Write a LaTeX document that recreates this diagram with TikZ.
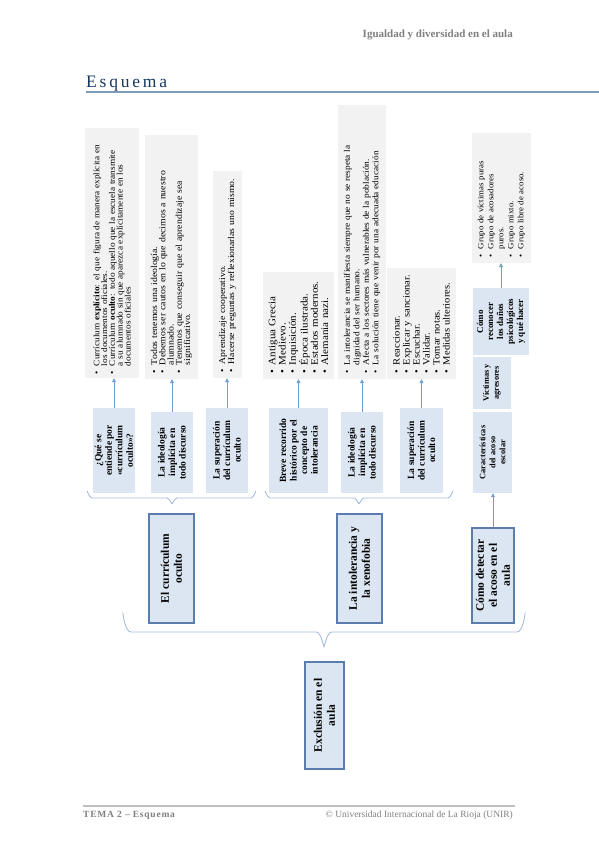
\documentclass[tikz,border=0pt]{standalone}
\usepackage{fontspec}
\setmainfont{Liberation Serif}
\newfontfamily\titlefont[LetterSpace=16]{Liberation Serif}
\newfontfamily\footfont[LetterSpace=8]{Liberation Serif}
\newfontfamily\notefont[FakeStretch=1.1]{Liberation Serif}
\usetikzlibrary{arrows.meta}

\definecolor{boxfill}{HTML}{DCE6F2}
\definecolor{boxline}{HTML}{5B7DAE}
\definecolor{grayfill}{HTML}{F2F2F2}
\definecolor{arrowblue}{HTML}{6E9FD6}
\definecolor{braceblue}{HTML}{A3BCDC}
\definecolor{titleblue}{HTML}{17375E}
\definecolor{ruleblue}{HTML}{7F9BBB}
\definecolor{footgray}{HTML}{7F7F7F}
\definecolor{footrule}{HTML}{BFBFBF}

\newcommand{\gitem}{\makebox[8pt][l]{\textbullet}}
\newcommand{\gcont}{\hspace*{8pt}}

\begin{document}
\begin{tikzpicture}[x=1pt,y=-1pt]
\tikzset{
  topic/.style={rotate=90, fill=boxfill, draw=boxline, line width=1.6pt, align=center,
    font=\fontsize{11.5}{13}\selectfont\bfseries, inner sep=2pt},
  subtopic/.style={rotate=90, fill=boxfill, align=center,
    font=\fontsize{9.5}{10.5}\selectfont\bfseries, inner sep=1pt},
  notes/.style={rotate=90, fill=grayfill, align=left, inner sep=6pt},
  link/.style={draw=arrowblue, line width=0.8pt, -{Triangle[width=4pt,length=4pt]}},
  brace/.style={draw=braceblue, line width=0.9pt}
}
\useasboundingbox (0,0) rectangle (599,848);

% page head and foot
\node[anchor=base east, inner sep=0pt, text=footgray, font=\fontsize{11}{13}\selectfont\bfseries] (head) at (513,38) {Igualdad y diversidad en el aula};
\node[anchor=base west, inner sep=0pt, text=titleblue, font=\fontsize{17.5}{20}\titlefont] (title) at (86,88) {Esquema};
\draw[ruleblue, line width=2pt] (86,92) -- (599,92);
\draw[footrule, line width=1.4pt] (83,806) -- (515,806);
\node[anchor=base west, inner sep=0pt, text=footgray, font=\fontsize{9.5}{11}\footfont\bfseries] (foot) at (83,817) {TEMA 2 – Esquema};
\node[anchor=base east, inner sep=0pt, text=footgray, font=\fontsize{9.5}{11}\selectfont] (unir) at (513,817) {© Universidad Internacional de La Rioja (UNIR)};

% notes
\node[notes, minimum width=250pt, minimum height=54pt, text width=242pt, inner xsep=4pt, font=\fontsize{8.4}{7.8}\notefont] (g1) at (112,253)
  {\gitem Currículum \textbf{explícito}: el que figura de manera explícita en\\
   \gcont los documentos oficiales.\\
   \gitem Currículum \textbf{oculto}: todo aquello que la escuela transmite\\
   \gcont a su alumnado sin que aparezca explícitamente en los\\
   \gcont documentos oficiales};
\node[notes, minimum width=244pt, minimum height=51pt, text width=232pt, font=\fontsize{8.9}{8.3}\notefont] (g2) at (171.5,257)
  {\gitem Todos tenemos una ideología.\\
   \gitem Debemos ser cautos en lo que decimos a nuestro\\
   \gcont alumnado.\\
   \gitem Tenemos que conseguir que el aprendizaje sea\\
   \gcont significativo.};
\node[notes, minimum width=207pt, minimum height=29pt, text width=195pt, font=\fontsize{8.8}{8}\notefont] (g3) at (227.5,274.5)
  {\gitem Aprendizaje cooperativo.\\
   \gitem Hacerse preguntas y reflexionarlas uno mismo.};
\node[notes, minimum width=107pt, minimum height=65pt, text width=95pt, font=\fontsize{10}{10.3}\notefont] (g4) at (298.5,325.5)
  {\gitem Antigua Grecia\\
   \gitem Medievo.\\
   \gitem Inquisición.\\
   \gitem Época ilustrada.\\
   \gitem Estados modernos.\\
   \gitem Alemania nazi.};
\node[notes, minimum width=274pt, minimum height=48pt, text width=262pt, font=\fontsize{8.5}{9.5}\notefont] (g5) at (362,242)
  {\gitem La intolerancia se manifiesta siempre que no se respeta la\\
   \gcont dignidad del ser humano.\\
   \gitem Afecta a los sectores más vulnerables de la población.\\
   \gitem La solución tiene que venir por una adecuada educación};
\node[notes, minimum width=111pt, minimum height=61pt, text width=99pt, font=\fontsize{9.6}{10}\notefont] (g6) at (421.5,323.5)
  {\gitem Reaccionar.\\
   \gitem Explicar y sancionar.\\
   \gitem Escuchar.\\
   \gitem Validar.\\
   \gitem Tomar notas.\\
   \gitem Medidas ulteriores.};
\node[notes, minimum width=130pt, minimum height=59pt, text width=118pt, font=\fontsize{8}{10}\notefont] (g7) at (501.5,198)
  {\gitem Grupo de víctimas puras\\
   \gitem Grupo de acosadores\\
   \gcont puros.\\
   \gitem Grupo mixto.\\
   \gitem Grupo libre de acoso.};

% subtopics
\node[subtopic, minimum width=85pt, minimum height=42pt] (qse) at (114,450.5) {¿Qué se\\entiende por\\«currículum\\oculto»?};
\node[subtopic, minimum width=81pt, minimum height=42pt] (ideo1) at (172,452.5) {La ideología\\implícita en\\todo discurso};
\node[subtopic, minimum width=85pt, minimum height=42pt] (sup1) at (227,450.5) {La superación\\del currículum\\oculto};
\node[subtopic, minimum width=85pt, minimum height=59pt] (breve) at (298.5,450.5) {Breve recorrido\\histórico por el\\concepto de\\intolerancia};
\node[subtopic, minimum width=81pt, minimum height=42pt] (ideo2) at (362,452.5) {La ideología\\implícita en\\todo discurso};
\node[subtopic, minimum width=85pt, minimum height=43pt] (sup2) at (421.5,450.5) {La superación\\del currículum\\oculto};
\node[subtopic, minimum width=81pt, minimum height=39pt, font=\fontsize{8.3}{10}\selectfont\bfseries] (carac) at (492.5,452.5) {Características\\del acoso\\escolar};
\node[subtopic, minimum width=52pt, minimum height=38pt, font=\fontsize{8.3}{10}\selectfont\bfseries] (victi) at (492,383) {Víctimas y\\agresores};
\node[subtopic, minimum width=67pt, minimum height=56pt, font=\fontsize{9}{10}\selectfont\bfseries] (recon) at (501,321.5) {Cómo\\reconocer\\los daños\\psicológicos\\y qué hacer};

% topics
\node[topic, minimum width=109pt, minimum height=45pt] (curri) at (171.5,568.5) {El currículum\\oculto};
\node[topic, minimum width=109pt, minimum height=45pt] (intol) at (359.5,568.5) {La intolerancia y\\la xenofobia};
\node[topic, minimum width=95pt, minimum height=42pt] (acoso) at (493,575.5) {Cómo detectar\\el acoso en el\\aula};
\node[topic, minimum width=107pt, minimum height=39pt] (exclu) at (324.5,715.5) {Exclusión en el\\aula};

% arrows
\draw[link] (qse.east) -- (qse.east |- g1.west);
\draw[link] (ideo1.east) -- (ideo1.east |- g2.west);
\draw[link] (sup1.east) -- (sup1.east |- g3.west);
\draw[link] (breve.east) -- (breve.east |- g4.west);
\draw[link] (ideo2.east) -- (ideo2.east |- g5.west);
\draw[link] (sup2.east) -- (sup2.east |- g6.west);
\draw[link] (recon.east) -- (recon.east |- g7.west);
\draw[link] (acoso.east) -- (acoso.east |- carac.west);

% braces
\draw[brace] (87,492) to[out=90,in=180] (92,498) -- (167,498) to[out=0,in=270] (172,503)
  to[out=270,in=180] (177,498) -- (251,498) to[out=0,in=90] (256,492);
\draw[brace] (265,492) to[out=90,in=180] (270,498) -- (354,498) to[out=0,in=270] (359,503)
  to[out=270,in=180] (364,498) -- (448,498) to[out=0,in=90] (453,492);
\draw[brace] (123,616) to[out=90,in=180] (131,632) -- (316,632) to[out=0,in=270] (324,645)
  to[out=270,in=180] (332,632) -- (517,632) to[out=0,in=90] (525,616);
\end{tikzpicture}
\end{document}
